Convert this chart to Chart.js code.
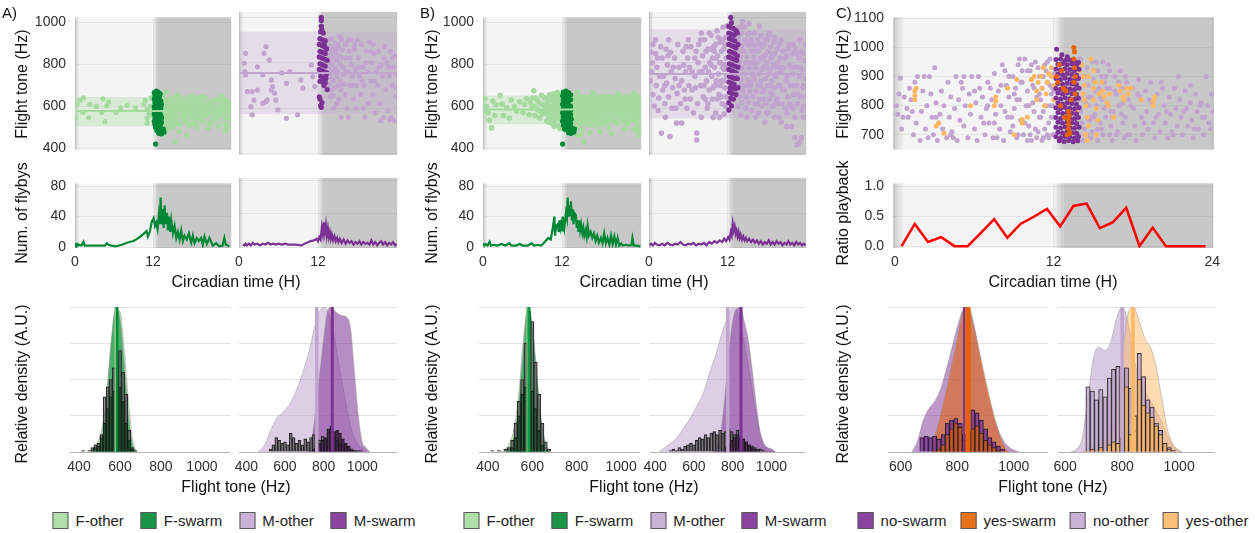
<!DOCTYPE html>
<html>
<head>
<meta charset="utf-8">
<title>Flight tone and flyby activity</title>
<script src="https://cdn.jsdelivr.net/npm/chart.js@4.4.1/dist/chart.umd.min.js"></script>
<style>
  body { margin: 0; width: 1255px; height: 533px; position: relative; overflow: hidden; background: #fff;
         font-family: "Liberation Sans", Arial, sans-serif; color: #111; }
  canvas { position: absolute; }
  .lab { position: absolute; white-space: nowrap; font-size: 16px; transform: translate(-50%, -50%); }
  .rot { transform: translate(-50%, -50%) rotate(-90deg); }
  .tag { position: absolute; font-size: 15px; top: 4px; }
  .legend { position: absolute; top: 512px; display: flex; gap: 17px; transform: translateX(-50%); font-size: 15px; color: #222; }
  .legend.narrow { gap: 14px; }
  .legend span { display: flex; align-items: center; gap: 7px; white-space: nowrap; }
  .legend i { display: inline-block; width: 16px; height: 17px; border: 1px solid #5a5a5a; box-sizing: border-box; }
</style>
</head>
<body>
<script>
// ---------- axes ----------
const hourTicks = [0, 12, 24];
const toneTicks = [400, 600, 800, 1000];
const toneTicksC = [700, 800, 900, 1000, 1100];
const flybyTicks = [0, 40, 80];
const ratioTicks = [0, 0.5, 1];
const densTicks = [0, 0.25, 0.5, 0.75, 1];
const hzTicks = [400, 600, 800, 1000];
const hzTicksC = [600, 800, 1000];

// light/dark phases (hours)
const lightsOff = 12, nightFrom = 12.75, dawnFade = 0.7;

// ---------- A: flight tone vs time, [hour, Hz] pairs ----------
const aFOther = [
  0.1,545, 0.3,610, 0.8,629, 1.2,571, 1.3,641, 2.1,546, 2.3,610, 3.3,600, 4.1,571, 4.3,636, 4.6,527, 4.9,603,
  5.2,622, 6.3,571, 7.0,593, 8.0,605, 9.3,593, 10.6,610, 10.8,629, 11.1,585, 11.1,542, 11.1,520, 11.4,563,
  11.6,600, 11.7,640, 11.8,560,
  13.5,590, 13.6,655, 13.6,545, 13.7,520, 13.8,625, 13.8,560, 13.9,600, 14.0,605, 14.0,668, 14.1,545, 14.2,630,
  14.3,580, 14.3,595, 14.4,515, 14.5,610, 14.6,560, 14.6,500, 14.7,530, 14.8,640, 14.9,590, 15.0,540, 15.0,610,
  15.1,505, 15.2,560, 15.3,620, 15.4,575, 15.5,530, 15.6,640, 15.6,520, 15.7,600, 15.8,555, 15.8,655, 15.9,585,
  16.0,640, 16.0,480, 16.1,515, 16.2,585, 16.3,610, 16.4,545, 16.5,620, 16.6,600, 16.7,570, 16.8,545, 16.9,600,
  17.0,530, 17.1,580, 17.2,640, 17.3,560, 17.4,620, 17.5,595, 17.6,510, 17.7,565, 17.8,625, 17.9,545, 18.0,600,
  18.0,650, 18.1,580, 18.2,545, 18.3,610, 18.4,520, 18.5,630, 18.6,560, 18.7,500, 18.8,640, 18.9,590, 19.0,565,
  19.1,545, 19.2,635, 19.3,615, 19.4,595, 19.5,575, 19.6,648, 19.7,530, 19.8,555, 19.9,600, 20.0,580, 20.1,640,
  20.3,560, 20.4,610, 20.5,495, 20.6,590, 20.8,520, 20.9,575, 21.0,620, 21.2,540, 21.3,570, 21.5,600, 21.7,630,
  21.8,545, 22.0,630, 22.0,505, 22.2,560, 22.3,585, 22.5,610, 22.5,650, 22.7,635, 22.8,560, 23.0,595, 23.1,483,
  23.2,545, 23.2,514, 23.3,625, 23.4,498, 23.5,570, 23.7,600, 23.8,540, 23.9,615,
  13.8,470, 14.1,492, 15.4,432, 17.2,461,
  14.2,560, 14.8,575, 15.3,545, 15.9,620, 16.6,560, 17.0,610, 17.6,590, 18.3,570, 18.8,610, 19.4,560, 20.2,600,
  20.9,610, 21.6,580, 22.4,600, 23.0,620, 23.6,590, 13.9,580
];
const aFSwarm = [
  12.2,665, 12.5,672, 12.8,668, 13.1,660, 12.3,650, 12.7,652, 13.0,645, 12.2,635, 12.6,638, 12.9,630, 13.2,625,
  12.3,620, 12.7,615, 13.0,612, 12.2,600, 12.5,598, 12.9,596, 13.2,592, 12.3,585, 12.7,580, 13.1,578, 12.2,565,
  12.5,568, 12.9,562, 13.2,558, 12.3,548, 12.7,545, 13.0,542, 12.2,530, 12.6,532, 12.9,528, 13.3,525, 12.3,515,
  12.7,512, 13.1,510, 12.4,500, 12.8,498, 13.2,495, 12.6,485, 13.0,482, 13.4,480, 12.9,472, 13.3,470, 13.7,478,
  13.6,492, 12.4,421, 12.2,580, 13.3,610, 13.3,545
];
const aMOther = [
  0.8,797, 0.9,761, 1.0,841, 1.0,746, 1.3,673, 1.8,607, 2.0,673, 2.0,571, 2.3,636, 2.8,782, 2.8,680, 3.6,746,
  3.6,622, 3.8,841, 4.1,870, 4.1,629, 4.3,636, 4.6,812, 4.9,724, 4.9,680, 5.1,695, 5.4,666, 5.6,636, 5.9,593,
  6.5,755, 7.2,556, 7.2,709, 7.7,761, 8.9,571, 9.4,724, 9.7,688, 11.0,790, 11.2,739, 11.5,695,
  13.6,900, 13.8,870, 13.7,830, 13.9,800, 13.6,770, 13.8,740, 13.7,705, 14.0,680, 13.9,650, 14.1,905, 14.2,860,
  14.3,825, 14.1,790, 14.4,760, 14.2,725, 14.5,690, 14.3,655, 14.6,885, 14.7,845, 14.8,810, 14.6,775, 14.9,740,
  15.0,700, 14.8,620, 15.1,870, 15.2,830, 15.3,795, 15.0,760, 15.4,720, 15.5,680, 15.2,640, 15.6,900, 15.7,855,
  15.8,780, 15.9,745, 16.0,705, 16.1,660, 16.2,880, 16.3,820, 16.5,760, 16.4,600, 16.7,850, 16.8,700, 17.0,900,
  17.1,790, 17.2,740, 17.4,640, 17.5,860, 17.7,770, 17.9,700, 18.0,900, 18.1,820, 18.3,740, 18.5,660, 18.6,880,
  18.8,780, 19.0,700, 19.1,560, 19.3,850, 19.5,760, 19.6,620, 19.8,890, 20.0,720, 20.2,800, 20.3,660, 20.5,840,
  20.7,580, 20.9,760, 21.1,700, 21.2,850, 21.4,620, 21.6,790, 21.8,740, 22.0,560, 22.1,870, 22.3,680, 22.5,800,
  22.6,590, 22.8,740, 23.0,850, 23.1,560, 23.3,700, 23.5,780, 23.6,545, 23.7,830, 23.8,650, 23.9,750, 22.9,550,
  21.5,545, 16.6,560, 15.5,560, 17.8,600, 18.9,600, 14.4,600, 20.4,880, 16.6,899, 15.3,914, 14.9,880,
  14.0,840, 14.4,720, 14.8,860, 15.3,700, 15.7,820, 16.2,760, 16.9,820, 17.3,700, 17.6,880, 18.2,780, 18.7,720,
  19.3,800, 20.0,850, 20.6,720, 21.3,780, 22.0,820, 22.7,780, 23.3,820, 23.9,690
];
const aMSwarm = [
  12.5,998, 12.5,985, 12.5,960, 12.6,945, 12.4,935, 12.8,930, 12.3,905, 12.7,900, 13.1,895, 12.2,880, 12.6,875,
  12.9,880, 13.0,870, 13.3,860, 12.3,850, 12.7,845, 13.1,840, 12.2,825, 12.6,820, 13.0,815, 13.4,810, 12.3,795,
  12.7,790, 13.1,785, 12.2,770, 12.6,765, 13.0,760, 13.3,755, 12.4,740, 12.8,735, 13.2,730, 13.2,745, 12.3,718,
  12.7,715, 13.1,712, 12.9,700, 12.2,650, 12.3,640, 12.4,612, 12.5,604, 12.6,625, 13.4,682
];
const aFBand = [505, 645], aFMedian = 578;
const aMBand = [575, 935], aMMedian = 755;

// ---------- B ----------
const bFOther = [
  0.1,580, 0.3,637, 0.5,600, 0.8,571, 1.0,535, 1.3,498, 1.5,625, 1.8,557, 2.0,608, 2.6,652, 2.9,610, 3.1,557,
  3.6,593, 4.0,545, 4.3,630, 4.8,600, 5.1,578, 5.6,622, 6.1,571, 6.3,610, 6.6,637, 7.0,560, 7.4,593, 7.7,674,
  7.9,557, 8.1,590, 8.4,622, 8.6,545, 8.9,652, 9.0,610, 9.2,578,
  9.5,640, 9.6,600, 9.5,565, 9.8,620, 9.9,580, 10.0,545, 10.1,655, 10.2,600, 10.3,565, 10.4,630, 10.5,590,
  10.6,550, 10.7,660, 10.8,615, 10.9,575, 11.0,535, 11.0,640, 11.1,600, 11.2,560, 11.3,665, 11.4,625, 11.5,585,
  11.5,545, 11.6,650, 11.7,605, 11.8,570, 11.9,530, 11.9,640, 10.5,520, 11.3,510, 9.7,530, 10.8,505, 11.7,495,
  7.2,620, 7.5,640, 7.8,600, 8.2,630, 8.5,580, 8.8,610, 9.3,640, 9.4,600, 9.7,590, 9.9,630, 10.2,570, 10.5,640,
  10.7,590, 10.9,625, 11.2,650, 11.4,590, 11.6,560, 11.8,610, 11.9,590, 9.0,565, 10.1,525, 8.0,640,
  13.7,645, 13.8,612, 13.6,580, 13.9,548, 13.7,515, 14.1,630, 14.2,596, 14.0,565, 14.3,532, 14.2,500, 14.6,648,
  14.5,614, 14.7,582, 14.6,550, 14.8,518, 15.0,632, 15.1,600, 15.0,567, 15.2,535, 15.1,490, 15.5,645, 15.4,612,
  15.6,580, 15.5,548, 15.7,515, 15.9,630, 16.0,598, 16.1,565, 15.9,532, 16.3,646, 16.4,612, 16.3,580, 16.5,548,
  16.4,512, 16.8,630, 16.9,596, 16.8,563, 17.0,530, 17.2,648, 17.3,614, 17.2,582, 17.4,550, 17.3,505, 17.7,632,
  17.8,600, 17.6,567, 17.9,535, 18.1,645, 18.2,612, 18.1,580, 18.3,548, 18.2,515, 18.6,630, 18.7,598, 18.5,565,
  18.8,532, 19.0,648, 19.1,614, 19.0,582, 19.2,550, 19.1,500, 19.5,632, 19.6,600, 19.4,567, 19.7,535, 19.9,645,
  20.0,612, 20.1,580, 19.9,548, 20.3,630, 20.4,598, 20.5,565, 20.4,520, 20.8,645, 20.9,612, 20.7,580, 21.0,548,
  21.2,630, 21.3,598, 21.2,565, 21.4,530, 21.7,648, 21.8,614, 21.6,582, 21.9,550, 22.1,632, 22.2,600, 22.0,567,
  22.3,535, 22.6,645, 22.7,612, 22.5,580, 22.8,548, 23.0,630, 23.1,598, 23.0,565, 23.2,530, 23.5,645, 23.6,612,
  23.4,580, 23.7,548, 23.9,630, 23.8,598, 23.9,565,
  13.7,600, 14.0,630, 14.4,580, 14.9,610, 15.3,590, 15.8,560, 16.2,600, 16.6,620, 17.0,580, 17.5,600, 18.0,625,
  18.4,590, 18.9,605, 19.3,620, 19.8,590, 20.2,605, 20.6,625, 21.0,595, 21.5,610, 22.0,595, 22.4,620, 22.9,600,
  23.3,615, 23.8,620, 16.0,520, 18.0,520, 20.0,530, 22.0,520,
  13.9,475, 14.4,462, 15.3,430, 16.2,475, 17.8,480, 19.5,470, 21.5,495, 22.9,490, 23.6,505, 23.6,485, 23.6,465,
  14.9,470, 14.3,668, 16.7,665, 20.6,660, 23.0,662
];
const bFSwarm = [
  12.2,668, 12.6,672, 13.0,665, 13.3,655, 12.1,650, 12.5,648, 12.9,645, 13.3,632, 12.2,630, 12.6,628, 13.0,622,
  12.1,610, 12.5,608, 12.9,605, 13.3,600, 12.2,590, 12.6,588, 13.0,585, 12.1,570, 12.5,568, 12.9,565, 13.3,560,
  12.2,550, 12.6,548, 13.0,545, 12.1,530, 12.5,528, 12.9,525, 13.3,520, 12.2,510, 12.6,508, 13.0,505, 13.4,500,
  12.4,492, 12.8,490, 13.2,486, 13.6,484, 13.0,475, 13.4,472, 13.8,478, 13.9,492, 12.1,421, 13.3,580, 13.4,540,
  12.8,612, 12.7,655
];
const bMOther = [
  0.3,845, 0.5,800, 0.4,760, 0.2,720, 0.6,660, 0.8,610, 1.0,840, 1.2,780, 1.1,700, 1.5,645, 1.4,590, 1.9,491,
  1.8,870, 2.0,820, 2.2,740, 2.1,680, 2.4,620, 2.6,860, 2.8,790, 2.7,710, 3.0,650, 3.2,476, 3.3,845, 3.4,760,
  3.6,690, 3.5,600, 3.9,820, 4.0,730, 4.2,535, 4.3,665, 4.4,880, 4.6,780, 4.8,620, 5.0,535, 5.0,720, 5.2,850,
  5.4,680, 5.6,760, 5.8,600, 5.9,820, 6.1,700, 6.3,640, 6.4,870, 6.6,760, 6.8,580, 7.0,820, 7.1,690, 7.3,491,
  7.3,461, 7.4,620, 7.6,880, 7.7,760, 7.9,700, 8.0,560, 8.2,830, 8.3,650, 8.5,900, 8.6,780, 8.8,720, 8.9,600,
  9.0,860, 9.2,680, 9.3,800, 9.5,920, 9.6,740, 9.7,640, 9.9,870, 10.0,780, 10.1,700, 10.2,580, 10.4,940,
  10.5,830, 10.6,750, 10.7,660, 10.9,890, 11.0,800, 11.1,720, 11.2,620, 11.3,955, 11.4,860, 11.5,770, 11.6,690,
  11.7,910, 11.8,820, 11.9,740, 11.8,650, 9.8,560, 10.8,560, 11.5,575, 6.0,900, 3.0,900, 8.0,930, 7.2,850,
  5.5,640, 2.5,560, 1.0,900,
  0.6,880, 1.3,820, 1.6,740, 2.4,700, 2.9,830, 3.7,780, 4.1,600, 4.6,700, 5.3,790, 5.7,870, 6.2,780, 6.6,680,
  7.0,740, 7.5,800, 7.9,900, 8.1,760, 8.4,700, 8.7,850, 9.1,760, 9.4,860, 9.8,690, 10.2,880, 10.3,820, 10.6,910,
  10.9,700, 11.1,850, 11.3,780, 11.6,880, 11.9,960, 11.7,610, 10.4,640, 9.0,620,
  8.6,640, 9.2,930, 9.5,790, 10.0,850, 10.3,720, 10.8,800, 11.2,900, 11.4,720, 11.7,790, 11.0,650, 9.7,820,
  13.6,950, 13.7,900, 13.6,850, 13.8,800, 13.7,750, 13.9,700, 13.8,650, 13.6,610, 14.1,930, 14.2,875, 14.0,825,
  14.3,775, 14.1,725, 14.4,675, 14.2,625, 14.6,955, 14.7,900, 14.5,850, 14.8,800, 14.6,750, 14.9,700, 14.7,650,
  14.8,600, 15.1,925, 15.2,875, 15.0,825, 15.3,775, 15.1,725, 15.4,675, 15.2,625, 15.6,900, 15.7,850, 15.5,800,
  15.8,750, 15.6,700, 15.9,650, 15.7,590, 16.1,930, 16.2,875, 16.0,825, 16.3,775, 16.1,725, 16.4,675, 16.2,620,
  16.6,900, 16.7,850, 16.5,800, 16.8,750, 16.6,700, 16.9,640, 16.7,580, 17.1,920, 17.2,870, 17.0,820, 17.3,770,
  17.1,720, 17.4,670, 17.2,610, 17.6,880, 17.7,830, 17.5,780, 17.8,730, 17.6,680, 17.9,620, 18.1,900, 18.2,850,
  18.0,800, 18.3,750, 18.1,700, 18.4,640, 18.2,580, 18.6,870, 18.7,820, 18.5,770, 18.8,720, 18.6,670, 18.9,610,
  19.1,890, 19.2,840, 19.0,790, 19.3,740, 19.1,690, 19.4,630, 19.6,860, 19.7,800, 19.5,750, 19.8,700, 19.6,640,
  20.0,880, 20.1,820, 20.2,760, 20.0,700, 20.3,620, 20.5,850, 20.6,780, 20.7,680, 20.9,600, 21.0,830, 21.1,740,
  21.2,650, 21.4,880, 21.5,790, 21.6,700, 21.7,610, 21.9,840, 22.0,750, 22.1,660, 22.3,560, 22.4,860, 22.5,780,
  22.6,700, 22.7,620, 22.9,820, 23.0,740, 23.1,650, 23.3,850, 23.4,770, 23.5,690, 23.6,610, 23.8,810, 23.9,730,
  23.9,650, 22.3,470, 22.6,440, 23.0,450, 23.3,470, 20.2,540, 21.0,520, 19.2,560, 17.7,540, 16.3,560, 15.0,560,
  14.0,570, 21.8,520, 23.6,560, 14.3,980, 15.3,970, 16.9,960, 18.4,930,
  13.8,920, 13.9,775, 13.7,680, 14.2,960, 14.4,850, 14.6,700, 14.9,890, 15.0,650, 15.4,930, 15.5,710, 15.8,880,
  15.9,800, 16.0,740, 16.4,850, 16.5,620, 16.9,880, 17.0,700, 17.3,820, 17.5,640, 17.8,900, 17.9,780, 18.3,920,
  18.4,700, 18.8,840, 18.9,660, 19.2,910, 19.4,780, 19.7,620, 20.0,780, 20.2,900, 20.4,680, 20.8,820, 21.0,720,
  21.3,860, 21.5,620, 21.8,780, 22.0,880, 22.2,700, 22.6,840, 22.8,660, 23.0,900, 23.2,780, 23.5,840, 23.7,700,
  23.9,880, 21.1,580, 22.0,600, 23.4,590, 18.0,580, 19.9,560
];
const bMSwarm = [
  12.5,998, 12.6,975, 12.2,960, 12.5,955, 12.9,950, 13.3,940, 12.2,930, 12.6,925, 13.0,920, 12.3,905, 12.7,900,
  13.1,895, 12.2,880, 12.6,875, 13.0,870, 13.3,865, 12.3,850, 12.7,845, 13.1,840, 12.2,825, 12.6,820, 13.0,815,
  13.4,810, 12.3,795, 12.7,790, 13.1,785, 12.2,770, 12.6,765, 13.0,760, 13.3,755, 12.3,740, 12.7,735, 13.1,730,
  12.2,715, 12.6,710, 13.0,705, 12.4,690, 12.8,688, 13.2,685, 12.3,670, 12.7,665, 13.3,660, 12.5,645, 12.9,640,
  12.2,625, 12.6,610, 12.2,592, 13.5,930, 13.6,880, 13.5,830, 13.6,780, 13.5,730, 13.6,690
];
const bFBand = [515, 652], bFMedian = 585;
const bMBand = [556, 946], bMMedian = 750;

// ---------- C: playback experiment ----------
const cNoOther = [
  0.1,800, 0.2,770, 0.4,895, 0.5,720, 0.7,830, 0.9,790, 1.0,760, 1.2,820, 1.4,700, 1.5,880, 1.6,740, 1.7,900,
  1.9,680, 2.0,780, 2.1,850, 2.3,720, 2.4,800, 2.5,690, 2.7,840, 2.8,760, 2.9,700, 3.0,930, 3.1,810, 3.2,680,
  3.4,770, 3.5,850, 3.6,720, 3.7,800, 3.9,690, 4.0,880, 4.1,760, 4.2,830, 4.3,710, 4.5,790, 4.6,900, 4.7,680,
  4.8,820, 4.9,750, 5.1,860, 5.2,730, 5.3,800, 5.5,690, 5.6,840, 5.7,770, 5.8,900, 6.0,720, 6.1,810, 6.2,680,
  6.4,860, 6.5,760, 6.6,830, 6.8,700, 6.9,790, 7.0,880, 7.1,740, 7.3,820, 7.4,690, 7.5,910, 7.6,770, 7.8,850,
  7.9,720, 8.0,800, 8.1,940, 8.2,680, 8.4,870, 8.5,760, 8.6,830, 8.7,710, 8.9,900, 9.0,790, 9.1,860, 9.2,690,
  9.3,940, 9.4,820, 9.5,750, 9.6,880, 9.7,700, 9.8,960, 9.9,800, 10.0,850, 10.1,730, 10.2,920, 10.3,680,
  10.4,870, 10.5,780, 10.6,950, 10.7,830, 10.8,710, 10.9,900, 11.0,760, 11.1,860, 11.2,690, 11.3,940, 11.4,800,
  11.5,880, 11.6,740, 11.7,960, 11.8,840, 11.9,700, 12.0,910,
  10.0,920, 10.3,890, 10.5,860, 10.8,930, 11.0,820, 11.2,900, 11.5,950, 11.7,870, 11.9,800, 10.4,810, 10.9,760,
  11.3,720, 11.8,760, 10.2,700, 9.6,920, 9.0,840, 8.8,760, 11.1,680, 11.6,690, 12.0,850, 12.0,760, 9.3,700,
  10.7,690, 8.3,920, 7.2,860, 6.3,900, 5.0,880, 2.2,900, 1.1,860, 0.3,840, 3.3,740, 4.4,690, 7.7,690, 6.7,740,
  8.0,870, 8.3,780, 8.6,900, 8.9,730, 9.2,820, 9.5,880, 9.8,740, 10.1,800, 10.3,940, 10.6,720, 10.9,840,
  11.2,780, 11.4,920, 11.7,800, 11.9,860, 10.0,680, 11.5,700, 12.0,700, 9.4,960, 7.0,800, 7.5,740, 6.0,850,
  5.2,900, 4.2,700, 3.1,760, 2.6,900, 1.3,780, 0.6,760,
  13.6,940, 13.7,880, 13.8,820, 13.6,760, 13.9,700, 14.0,960, 14.1,900, 14.2,840, 14.0,780, 14.3,720, 14.2,680,
  14.5,930, 14.6,870, 14.4,810, 14.7,750, 14.5,700, 14.9,950, 15.0,890, 14.8,830, 15.1,770, 14.9,710, 15.3,920,
  15.4,860, 15.2,800, 15.5,740, 15.3,680, 15.7,950, 15.8,880, 15.6,820, 15.9,760, 15.7,700, 16.1,940, 16.2,860,
  16.0,800, 16.3,730, 16.4,680, 16.6,900, 16.7,840, 16.5,780, 16.8,710, 17.0,920, 17.1,860, 16.9,800, 17.2,740,
  17.3,690, 17.5,880, 17.6,820, 17.4,760, 17.7,700, 17.9,860, 18.0,790, 18.1,730, 18.2,680, 18.4,890, 18.5,830,
  18.6,760, 18.7,700, 18.9,850, 19.0,780, 19.1,720, 19.3,880, 19.4,810, 19.5,740, 19.6,690, 19.8,840, 19.9,770,
  20.0,710, 20.2,860, 20.3,800, 20.4,740, 20.6,690, 20.7,830, 20.8,770, 20.9,710, 21.1,860, 21.2,790, 21.3,730,
  21.5,820, 21.6,760, 21.7,700, 21.9,850, 22.0,790, 22.1,730, 22.3,810, 22.4,750, 22.5,690, 22.7,840, 22.8,780,
  22.9,720, 23.1,810, 23.2,760, 23.3,700, 23.5,900, 23.6,800, 23.7,740, 23.9,840, 24.0,780,
  13.8,900, 14.3,870, 14.6,800, 15.0,760, 15.5,830, 15.9,900, 16.3,780, 13.9,740, 14.8,690, 15.6,720, 16.2,700,
  14.1,820, 15.2,950, 16.6,850, 17.2,810,
  13.6,860, 13.7,800, 13.9,960, 14.1,740, 14.4,900, 14.6,830, 14.8,760, 15.1,850, 15.3,720, 15.6,900, 15.8,790,
  16.0,860, 16.2,920, 16.4,760, 16.7,700, 16.9,880, 17.1,770, 17.4,900, 17.6,700, 17.8,800, 18.3,840, 18.8,740,
  19.2,820, 19.7,760, 20.1,880, 20.5,780, 21.0,700, 21.4,900, 21.8,780, 22.3,870, 22.6,720, 23.0,800, 23.4,760,
  23.8,720
];
const cYesOther = [
  1.5,820, 1.5,835, 1.5,850, 1.6,860, 3.1,730, 3.3,740, 3.7,705, 5.7,800, 7.5,800, 7.6,815, 7.6,830, 8.5,860,
  9.2,890, 9.6,740, 9.6,752, 10.3,890, 10.7,820, 10.7,850, 10.8,880, 11.0,900, 11.1,860, 11.2,930, 11.4,840,
  11.5,880, 11.6,910, 11.8,930, 11.8,900, 12.0,870, 10.0,760, 9.0,700, 11.3,800, 10.5,900, 12.0,820,
  14.1,940, 14.2,900, 14.3,870, 14.2,840, 14.4,800, 14.5,760, 14.6,730, 14.4,700, 14.8,960, 15.0,920, 15.1,880,
  15.0,820, 15.2,790, 15.3,750, 15.4,840, 15.7,850, 15.8,830, 16.0,810, 16.1,800, 16.9,870, 17.0,850, 17.2,830,
  17.3,820, 17.5,860, 17.6,840, 19.5,800, 19.5,815, 19.6,830, 13.5,680, 14.5,680,
  14.3,820, 14.6,900, 15.0,860, 15.2,700, 15.6,880, 16.2,840, 16.5,760, 17.8,860, 18.6,820, 13.9,920, 13.7,780
];
const cNoSwarm = [
  12.15,958, 12.5,960, 12.85,955, 13.2,957, 13.55,952, 13.85,948, 12.3,942, 12.65,944, 13.0,940, 13.35,943, 13.7,938,
  12.15,926, 12.5,923, 12.85,927, 13.2,924, 13.55,921, 13.9,925, 12.3,909, 12.65,906, 13.0,910, 13.35,907, 13.7,905,
  12.15,893, 12.5,890, 12.85,894, 13.2,891, 13.55,889, 13.85,893, 12.3,876, 12.65,873, 13.0,877, 13.35,874, 13.7,872,
  12.15,859, 12.5,856, 12.85,860, 13.2,857, 13.55,855, 13.9,860, 12.3,843, 12.65,840, 13.0,844, 13.35,841, 13.7,839,
  12.15,826, 12.5,823, 12.85,827, 13.2,824, 13.55,822, 13.85,826, 12.3,809, 12.65,806, 13.0,810, 13.35,807, 13.7,805,
  12.15,793, 12.5,790, 12.85,794, 13.2,791, 13.55,789, 13.9,793, 12.3,776, 12.65,773, 13.0,777, 13.35,774, 13.7,772,
  12.15,759, 12.5,756, 12.85,760, 13.2,757, 13.55,755, 13.85,759, 12.3,743, 12.65,740, 13.0,744, 13.35,741, 13.7,739,
  12.15,726, 12.5,723, 12.85,727, 13.2,724, 13.55,722, 13.9,726, 12.3,709, 12.65,706, 13.0,710, 13.35,707, 13.7,705,
  12.15,693, 12.5,690, 12.85,694, 13.2,691, 13.55,689, 13.85,693, 12.4,679, 12.75,677, 13.1,680, 13.45,676, 13.8,679,
  12.2,994, 12.6,975, 13.0,968
];
const cYesSwarm = [
  13.1,720, 13.1,735, 13.1,750, 13.15,765, 13.1,780, 13.2,705, 12.2,900, 12.3,880, 12.6,920, 12.7,860, 13.5,1000,
  13.55,985, 13.5,960, 13.55,930, 13.6,900, 13.5,880, 12.9,850, 12.5,800, 13.3,820, 12.8,760, 12.4,940, 13.6,840,
  13.0,700
];

// ---------- flybys per time bin, [hour, count] ----------
const aFFlybys = [
  0,5, 0.2,1, 0.35,4, 0.5,2, 0.7,3, 1.0,2, 1.3,7, 1.5,2, 2.5,2, 3.5,2, 4.6,2, 4.9,5, 5.2,3, 5.6,2, 6.3,1, 7.2,3,
  8.1,6, 9.0,8, 9.8,12, 10.5,17, 11.0,21, 11.2,14, 11.5,20, 11.8,33, 12.1,38, 12.3,28, 12.5,32, 12.7,24, 12.9,42,
  13.05,30, 13.18,65, 13.33,30, 13.48,50, 13.64,25, 13.79,55, 13.94,30, 14.15,45, 14.3,22, 14.45,40, 14.66,20,
  14.81,35, 15.07,18, 15.32,28, 15.58,12, 15.83,20, 16.09,10, 16.34,22, 16.6,8, 16.85,15, 17.21,10, 17.52,18,
  17.88,6, 18.13,15, 18.39,5, 18.74,12, 19.05,8, 19.41,12, 19.66,3, 19.92,14, 20.28,4, 20.68,12, 21.2,2, 21.7,5,
  22.2,1, 22.7,2, 22.98,12, 23.2,3, 23.75,1
];
const aMFlybys = [
  0.6,3, 0.8,2, 1.0,4, 1.2,2, 1.5,4, 1.8,2, 2.1,5, 2.4,3, 2.8,4, 3.2,2, 3.6,4, 4.0,3, 4.4,5, 4.8,3, 5.2,4, 5.6,3,
  6.0,4, 6.5,3, 7.0,4, 7.5,3, 8.5,3, 9.5,2, 10.2,5, 10.8,7, 11.4,8, 11.8,10, 12.0,7, 12.2,12, 12.4,9, 12.6,24,
  12.75,16, 12.9,30, 13.05,18, 13.2,27, 13.35,14, 13.5,22, 13.65,12, 13.8,18, 13.95,10, 14.1,15, 14.3,8, 14.5,13,
  14.7,7, 14.9,11, 15.1,6, 15.3,10, 15.6,5, 15.9,9, 16.2,4, 16.5,8, 16.8,5, 17.1,7, 17.4,3, 17.7,6, 18.0,4,
  18.3,7, 18.6,3, 18.9,6, 19.2,4, 19.5,5, 19.8,3, 20.1,8, 20.4,3, 20.7,6, 21.0,2, 21.3,5, 21.6,7, 21.9,3, 22.2,6,
  22.5,2, 22.8,5, 23.1,3, 23.4,6, 23.7,2, 23.9,4
];
const bFFlybys = [
  0,5, 0.2,2, 0.4,4, 0.7,2, 1.0,7, 1.2,2, 1.6,3, 2.2,2, 2.8,4, 3.4,2, 4.0,5, 4.3,2, 5.0,2, 5.6,4, 6.0,2, 6.8,2,
  7.4,5, 7.7,2, 8.3,3, 8.8,2, 9.1,4, 9.5,8, 9.9,12, 10.3,10, 10.6,25, 10.84,40, 10.95,15, 11.1,28, 11.35,30,
  11.5,20, 11.6,35, 11.75,25, 11.85,30, 12.0,22, 12.1,40, 12.35,25, 12.6,45, 12.75,38, 12.86,65, 13.0,40, 13.1,55,
  13.25,42, 13.36,60, 13.5,35, 13.6,50, 13.75,30, 13.87,45, 14.1,42, 14.25,25, 14.37,35, 14.5,20, 14.6,35,
  14.75,22, 14.9,30, 15.1,18, 15.25,25, 15.4,15, 15.6,22, 15.75,14, 15.9,28, 16.1,15, 16.35,20, 16.6,12,
  16.85,18, 17.1,8, 17.35,15, 17.6,6, 17.9,12, 18.15,5, 18.4,18, 18.65,5, 18.9,12, 19.2,3, 19.45,15, 19.7,4,
  19.95,14, 20.2,3, 20.45,12, 20.7,2, 21.0,5, 21.2,2, 21.7,3, 22.2,2, 22.55,3, 22.7,12, 22.9,2, 23.4,2, 23.9,1
];
const bMFlybys = [
  0.1,2, 0.3,4, 0.6,2, 0.9,5, 1.2,3, 1.6,2, 2.0,4, 2.4,2, 2.8,5, 3.2,3, 3.6,2, 4.0,4, 4.4,3, 4.8,6, 5.2,3, 5.6,2,
  6.0,4, 6.4,3, 6.8,5, 7.2,2, 7.6,4, 8.0,3, 8.4,5, 8.8,2, 9.2,6, 9.6,4, 10.0,7, 10.4,5, 10.8,8, 11.2,6, 11.5,10,
  11.8,7, 12.1,12, 12.3,9, 12.5,18, 12.65,14, 12.8,28, 12.95,20, 13.1,25, 13.25,16, 13.4,20, 13.55,13, 13.7,18,
  13.85,11, 14.0,15, 14.2,9, 14.4,13, 14.6,8, 14.8,11, 15.0,7, 15.3,10, 15.6,6, 15.9,9, 16.2,5, 16.5,8, 16.8,4,
  17.1,7, 17.4,3, 17.7,6, 18.0,4, 18.3,8, 18.6,3, 18.9,6, 19.2,3, 19.5,7, 19.8,4, 20.1,6, 20.4,2, 20.7,5, 21.0,3,
  21.3,7, 21.6,3, 21.9,5, 22.2,2, 22.5,6, 22.8,3, 23.1,5, 23.4,2, 23.7,4, 23.95,2
];
const ratioHours = [0.5, 1.5, 2.5, 3.5, 4.5, 5.5, 6.5, 7.5, 8.5, 9.5, 10.5, 11.5, 12.5, 13.5, 14.5, 15.5, 16.5, 17.5, 18.5, 19.5, 20.5, 21.5, 22.5, 23.5];
const ratioPlayback = [0, 0.37, 0.07, 0.15, 0, 0, 0.22, 0.45, 0.14, 0.37, 0.49, 0.62, 0.33, 0.67, 0.71, 0.30, 0.40, 0.64, 0, 0.31, 0, 0, 0, 0];

// ---------- densities [Hz, relative density] and histograms [bin centre Hz, height] ----------
const aFOtherDens = [460,0, 480,0.05, 500,0.1, 520,0.22, 540,0.5, 560,0.8, 580,0.98, 600,0.97, 620,0.72, 640,0.38, 660,0.1, 680,0];
const aFSwarmDens = [480,0, 500,0.03, 520,0.16, 540,0.45, 560,0.8, 580,1.0, 600,0.92, 620,0.62, 640,0.27, 660,0.06, 680,0];
const aFOtherHist = [420,0.01, 450,0.01, 465,0.03, 480,0.05, 495,0.06, 510,0.12, 525,0.38, 540,0.45, 555,0.5, 570,0.58, 585,0.62, 600,0.7, 615,0.55, 630,0.4, 645,0.15, 660,0.03, 675,0.01];
const aFSwarmHist = [465,0.01, 480,0.03, 495,0.04, 510,0.1, 525,0.2, 540,0.3, 555,0.38, 570,0.42, 585,0.48, 600,0.45, 615,0.35, 630,0.2, 645,0.08, 660,0.02];
const aFLines = [578, 586];

const aMOtherDens = [460,0, 480,0.02, 500,0.06, 520,0.13, 540,0.19, 560,0.24, 580,0.26, 600,0.29, 620,0.32, 640,0.37, 660,0.43, 680,0.5, 700,0.58, 720,0.67, 740,0.78, 760,0.9, 780,0.97, 800,1.0, 820,0.97, 840,0.88, 860,0.76, 880,0.6, 900,0.45, 920,0.3, 940,0.18, 960,0.1, 980,0.05, 1000,0.03, 1020,0];
const aMSwarmDens = [720,0, 740,0.1, 760,0.3, 780,0.55, 800,0.78, 820,0.97, 840,1.0, 860,0.97, 880,0.95, 900,0.94, 920,0.93, 940,0.85, 960,0.55, 980,0.25, 1000,0.07, 1020,0.03, 1040,0];
const aMOtherHist = [525,0.02, 540,0.05, 555,0.1, 570,0.08, 585,0.06, 600,0.07, 615,0.05, 630,0.13, 645,0.1, 660,0.06, 675,0.08, 690,0.05, 705,0.09, 720,0.07, 735,0.1, 750,0.12, 765,0.1, 780,0.08, 795,0.11, 810,0.09, 825,0.14, 840,0.12, 855,0.1, 870,0.08, 885,0.06, 900,0.05, 915,0.04, 930,0.03, 945,0.02, 960,0.01, 975,0.01];
const aMSwarmHist = [750,0.02, 765,0.04, 780,0.06, 795,0.08, 810,0.1, 825,0.16, 840,0.18, 855,0.14, 870,0.15, 885,0.13, 900,0.09, 915,0.06, 930,0.04, 945,0.02, 960,0.01, 990,0.01];
const aMLines = [765, 845];

const bFOtherDens = [460,0, 480,0.02, 500,0.07, 520,0.18, 540,0.42, 560,0.78, 580,0.99, 600,0.85, 620,0.5, 640,0.22, 660,0.06, 680,0];
const bFSwarmDens = [480,0, 500,0.03, 520,0.12, 540,0.35, 560,0.72, 580,1.0, 600,0.88, 620,0.55, 640,0.22, 660,0.05, 680,0];
const bFOtherHist = [420,0.01, 450,0.01, 480,0.02, 495,0.03, 510,0.08, 525,0.2, 540,0.35, 555,0.5, 570,0.75, 585,0.97, 600,0.9, 615,0.62, 630,0.4, 645,0.2, 660,0.07, 675,0.02];
const bFSwarmHist = [510,0.03, 525,0.1, 540,0.25, 555,0.4, 570,0.45, 585,0.5, 600,0.42, 615,0.3, 630,0.15, 645,0.05];
const bFLines = [578, 585];

const bMOtherDens = [420,0, 440,0.02, 460,0.04, 480,0.06, 500,0.08, 520,0.11, 540,0.15, 560,0.19, 580,0.23, 600,0.28, 620,0.33, 640,0.38, 660,0.45, 680,0.54, 700,0.62, 720,0.7, 740,0.8, 760,0.88, 780,0.95, 800,1.0, 820,0.98, 840,0.88, 860,0.75, 880,0.6, 900,0.43, 920,0.27, 940,0.14, 960,0.06, 980,0.03, 1000,0.02, 1020,0];
const bMSwarmDens = [700,0, 720,0.04, 740,0.15, 760,0.38, 780,0.68, 800,0.9, 820,0.99, 840,1.0, 860,0.9, 880,0.78, 900,0.58, 920,0.35, 940,0.15, 960,0.06, 980,0.03, 1000,0.02, 1020,0];
const bMOtherHist = [480,0.01, 495,0.02, 510,0.01, 525,0.03, 540,0.02, 555,0.04, 570,0.05, 585,0.06, 600,0.05, 615,0.08, 630,0.1, 645,0.09, 660,0.12, 675,0.1, 690,0.13, 705,0.14, 720,0.12, 735,0.15, 750,0.13, 765,0.14, 780,0.16, 795,0.14, 810,0.12, 825,0.15, 840,0.11, 855,0.09, 870,0.07, 885,0.05, 900,0.04, 915,0.03, 930,0.02, 945,0.02, 960,0.01];
const bMSwarmHist = [765,0.03, 780,0.06, 795,0.08, 810,0.1, 825,0.12, 840,0.11, 855,0.09, 870,0.07, 885,0.05, 900,0.03, 915,0.02, 930,0.01];
const bMLines = [775, 843];

const cNoSwarmDens = [640,0, 660,0.08, 680,0.22, 700,0.3, 720,0.35, 740,0.43, 760,0.56, 780,0.71, 800,0.86, 820,0.98, 840,1.0, 860,0.87, 880,0.66, 900,0.47, 920,0.31, 940,0.18, 960,0.09, 980,0.04, 1000,0.015, 1020,0];
const cYesSwarmDens = [710,0, 720,0.1, 740,0.25, 760,0.42, 780,0.6, 800,0.78, 820,0.97, 835,1.0, 860,0.85, 880,0.68, 900,0.5, 920,0.33, 940,0.18, 960,0.07, 980,0];
const cNoSwarmHist = [675,0.1, 690,0.11, 705,0.1, 720,0.11, 735,0.09, 750,0.12, 765,0.2, 780,0.22, 795,0.23, 810,0.2, 825,0.12, 840,0.13, 855,0.29, 870,0.27, 885,0.22, 900,0.16, 915,0.1, 930,0.07, 945,0.04, 960,0.02];
const cYesSwarmHist = [735,0.02, 750,0.05, 765,0.12, 780,0.16, 795,0.2, 810,0.17, 825,0.08, 840,0.1, 855,0.16, 870,0.18, 885,0.13, 900,0.08, 915,0.05, 930,0.03, 945,0.01];
const cSwarmLines = [824, 838];

const cNoOtherDens = [620,0, 640,0.02, 660,0.1, 680,0.38, 700,0.66, 720,0.72, 740,0.7, 760,0.76, 780,0.92, 800,1.0, 820,0.9, 840,0.66, 860,0.5, 880,0.42, 900,0.35, 920,0.28, 940,0.2, 960,0.11, 980,0.04, 1000,0.01, 1010,0];
const cYesOtherDens = [660,0, 680,0.02, 700,0.04, 720,0.06, 740,0.08, 760,0.14, 780,0.3, 800,0.65, 820,0.95, 840,1.0, 860,0.9, 880,0.78, 900,0.72, 920,0.58, 940,0.36, 960,0.15, 980,0.05, 1000,0.01, 1010,0];
const cNoOtherHist = [680,0.45, 695,0.42, 710,0.36, 725,0.43, 740,0.38, 755,0.51, 770,0.57, 785,0.59, 800,0.1, 815,0.58, 830,0.44, 845,0.15, 860,0.68, 875,0.52, 890,0.36, 905,0.31, 920,0.2, 935,0.15, 950,0.06, 965,0.03, 980,0.01];
const cYesOtherHist = [695,0.02, 725,0.03, 755,0.05, 770,0.07, 785,0.06, 800,0.05, 815,0.45, 830,0.12, 845,0.25, 860,0.5, 875,0.32, 890,0.27, 905,0.24, 920,0.18, 935,0.12, 950,0.06, 965,0.02];
const cOtherLines = [800, 838];

// ---------- legends ----------
const legendAB = [['F-other', '#b0dfab'], ['F-swarm', '#1a9447'], ['M-other', '#c9b0d5'], ['M-swarm', '#8a43a0']];
const legendC = [['no-swarm', '#8a43a0'], ['yes-swarm', '#e8721a'], ['no-other', '#c9b0d5'], ['yes-other', '#fdc07a']];

// ---------- styling ----------
const ink = '#2e2e2e';
const gridLine = 'rgba(0,0,0,0.055)';
const dayGrey = '#f4f4f4', nightGrey = '#c8c8c8', edgeGrey = '#cbcbcb';
const col = {
  Fother: '#a6dba0', Fswarm: '#008837', Mother: '#c2a5cf', Mswarm: '#7b3294',
  yesSwarm: '#e66101', yesOther: '#fdb863'
};

const pairs = flat => {
  const out = [];
  for (let i = 0; i < flat.length; i += 2) out.push({x: flat[i], y: flat[i + 1]});
  return out;
};

// grey day / night background behind the time panels
const shadePlugin = {
  id: 'shade',
  beforeDraw(chart) {
    const {ctx, chartArea: a} = chart;
    const x = chart.scales.x;
    const px = h => x.getPixelForValue(h);
    ctx.save();
    ctx.fillStyle = dayGrey;
    ctx.fillRect(a.left, a.top, a.width, a.height);
    let g = ctx.createLinearGradient(a.left, 0, px(dawnFade), 0);
    g.addColorStop(0, edgeGrey);
    g.addColorStop(1, dayGrey);
    ctx.fillStyle = g;
    ctx.fillRect(a.left, a.top, px(dawnFade) - a.left, a.height);
    g = ctx.createLinearGradient(px(lightsOff), 0, px(nightFrom), 0);
    g.addColorStop(0, dayGrey);
    g.addColorStop(1, nightGrey);
    ctx.fillStyle = g;
    ctx.fillRect(px(lightsOff), a.top, px(nightFrom) - px(lightsOff), a.height);
    ctx.fillStyle = nightGrey;
    ctx.fillRect(px(nightFrom), a.top, a.right - px(nightFrom), a.height);
    ctx.restore();
  }
};

function scale(min, max, ticks, o = {}) {
  return {
    type: 'linear', min, max, offset: false,
    afterBuildTicks: s => { s.ticks = ticks.map(value => ({value})); },
    grid: {display: o.grid !== false, color: o.gridColor || gridLine, drawTicks: false, lineWidth: 1},
    border: {display: false},
    ticks: {display: !!o.show, padding: o.pad === undefined ? 9 : o.pad, color: ink, font: {size: 14},
            callback: o.fmt || (v => v)}
  };
}

// box = plot area on the page; ml / mb = room kept for y / x tick labels
function panel(box, xScale, yScale, layers, shaded) {
  const pad = 12;
  const cv = document.createElement('canvas');
  const w = box.w + box.ml + 2 * pad, h = box.h + box.mb + 2 * pad;
  cv.width = w; cv.height = h;
  cv.style.left = (box.l - box.ml - pad) + 'px';
  cv.style.top = (box.t - pad) + 'px';
  cv.style.width = w + 'px';
  cv.style.height = h + 'px';
  document.body.appendChild(cv);
  // first layer in the list is painted first
  layers.forEach((d, i) => { d.order = layers.length - i; });
  xScale.afterFit = s => { s.height = box.mb; };
  yScale.afterFit = s => { s.width = box.ml; };
  return new Chart(cv, {
    type: 'scatter',
    data: {datasets: layers},
    options: {
      responsive: false, animation: false, devicePixelRatio: 1, events: [],
      layout: {padding: pad},
      plugins: {legend: {display: false}, tooltip: {enabled: false}, shade: shaded ? {} : false},
      scales: {x: xScale, y: yScale}
    },
    plugins: [shadePlugin]
  });
}

const dots = (data, color, r = 2.6) => ({type: 'scatter', data: pairs(data), backgroundColor: color, borderWidth: 0,
                                         pointRadius: r, pointHoverRadius: r});
const hline = (y, color) => ({type: 'line', data: [{x: 0, y}, {x: 24, y}], borderColor: color, borderWidth: 2, pointRadius: 0});
const band = (lohi, color) => [
  {type: 'line', data: [{x: 0, y: lohi[0]}, {x: 24, y: lohi[0]}], borderColor: 'transparent', pointRadius: 0, fill: false},
  {type: 'line', data: [{x: 0, y: lohi[1]}, {x: 24, y: lohi[1]}], borderColor: 'transparent', pointRadius: 0, fill: '-1', backgroundColor: color}
];
const trace = (data, color) => ({type: 'line', data: pairs(data), borderColor: color, borderWidth: 2.2, pointRadius: 0, tension: 0});
const dens = (data, fill) => ({type: 'line', data: pairs(data), fill: 'origin', backgroundColor: fill,
                               borderColor: 'rgba(150,150,150,0.6)', borderWidth: 0.8, pointRadius: 0,
                               cubicInterpolationMode: 'monotone'});
const hist = (data, fill) => ({type: 'bar', data: pairs(data), backgroundColor: fill, borderColor: '#1e1e1e',
                               borderWidth: 0.8, barPercentage: 1, categoryPercentage: 1, grouped: false});
const vline = (x, color, w) => ({type: 'line', data: [{x, y: 0}, {x, y: 1}], borderColor: color, borderWidth: w, pointRadius: 0});

const densGrid = c => (c.tick && c.tick.value === 0 ? '#b5b5b5' : '#e2e2e2');
const hideLast = v => (v === 24 ? '' : v);

// ---------- row 1: flight tone over the day ----------
const toneY = (show) => scale(395, 1022, toneTicks, {show});
panel({l: 75, t: 12, w: 156, h: 143, ml: 45, mb: 0}, scale(0, 24, hourTicks), toneY(true),
  [...band(aFBand, 'rgba(166,219,160,0.35)'), dots(aFOther, col.Fother), dots(aFSwarm, col.Fswarm), hline(aFMedian, col.Fother)], true);
panel({l: 239, t: 12, w: 158, h: 143, ml: 0, mb: 0}, scale(0, 24, hourTicks), toneY(false),
  [...band(aMBand, 'rgba(194,165,207,0.3)'), dots(aMOther, col.Mother), dots(aMSwarm, col.Mswarm), hline(aMMedian, col.Mother)], true);
panel({l: 483, t: 12, w: 158, h: 143, ml: 45, mb: 0}, scale(0, 24, hourTicks), toneY(true),
  [...band(bFBand, 'rgba(166,219,160,0.35)'), dots(bFOther, col.Fother, 2.8), dots(bFSwarm, col.Fswarm), hline(bFMedian, col.Fother)], true);
panel({l: 649, t: 12, w: 157, h: 143, ml: 0, mb: 0}, scale(0, 24, hourTicks), toneY(false),
  [...band(bMBand, 'rgba(194,165,207,0.3)'), dots(bMOther, col.Mother, 2.8), dots(bMSwarm, col.Mswarm), hline(bMMedian, col.Mother)], true);
panel({l: 893, t: 12, w: 321, h: 143, ml: 45, mb: 0}, scale(-0.15, 24.08, hourTicks), scale(649, 1103, toneTicksC, {show: true}),
  [dots(cNoOther, col.Mother, 2.5), dots(cYesOther, col.yesOther, 2.5), dots(cNoSwarm, col.Mswarm, 2.5), dots(cYesSwarm, col.yesSwarm, 2.5)], true);

// ---------- row 2: activity ----------
const hourX = (fmt) => scale(0, 24, hourTicks, {show: true, pad: 6, fmt});
const flybyY = (show) => scale(-1.2, 83.6, flybyTicks, {show});
panel({l: 75, t: 178, w: 156, h: 70, ml: 45, mb: 24}, hourX(hideLast), flybyY(true), [trace(aFFlybys, col.Fswarm)], true);
panel({l: 239, t: 178, w: 158, h: 70, ml: 0, mb: 24}, hourX(hideLast), flybyY(false), [trace(aMFlybys, col.Mswarm)], true);
panel({l: 483, t: 178, w: 158, h: 70, ml: 45, mb: 24}, hourX(hideLast), flybyY(true), [trace(bFFlybys, col.Fswarm)], true);
panel({l: 649, t: 178, w: 157, h: 70, ml: 0, mb: 24}, hourX(hideLast), flybyY(false), [trace(bMFlybys, col.Mswarm)], true);
panel({l: 893, t: 178, w: 321, h: 70, ml: 45, mb: 24}, scale(-0.15, 24.08, hourTicks, {show: true, pad: 6}),
  scale(-0.031, 1.046, ratioTicks, {show: true, fmt: v => v.toFixed(1)}),
  [{type: 'line', data: ratioHours.map((x, i) => ({x, y: ratioPlayback[i]})), borderColor: '#ff0000', borderWidth: 2.5, pointRadius: 0, tension: 0}], true);

// ---------- row 3: flight tone distributions ----------
const hzX = (min, max, ticks) => scale(min, max, ticks, {show: true, pad: 7, grid: false});
const densY = () => scale(0, 1, densTicks, {gridColor: densGrid});
const box3 = (l, w) => ({l, t: 307, w, h: 145, ml: 0, mb: 24});
panel(box3(70, 160), hzX(356, 1137, hzTicks), densY(), [
  dens(aFOtherDens, 'rgba(166,219,160,0.75)'), dens(aFSwarmDens, 'rgba(0,136,55,0.6)'),
  hist(aFOtherHist, 'rgba(110,110,110,0.55)'), hist(aFSwarmHist, 'rgba(10,70,30,0.55)'),
  vline(aFLines[0], '#8fcf89', 2), vline(aFLines[1], col.Fswarm, 2.5)]);
panel(box3(239, 158), hzX(362, 1180, hzTicks), densY(), [
  dens(aMOtherDens, 'rgba(194,165,207,0.55)'), dens(aMSwarmDens, 'rgba(123,50,148,0.55)'),
  hist(aMOtherHist, 'rgba(110,110,110,0.55)'), hist(aMSwarmHist, 'rgba(70,20,80,0.55)'),
  vline(aMLines[0], col.Mother, 3.5), vline(aMLines[1], col.Mswarm, 3)]);
panel(box3(479, 161), hzX(360, 1085, hzTicks), densY(), [
  dens(bFOtherDens, 'rgba(166,219,160,0.75)'), dens(bFSwarmDens, 'rgba(0,136,55,0.6)'),
  hist(bFOtherHist, 'rgba(110,110,110,0.6)'), hist(bFSwarmHist, 'rgba(10,70,30,0.55)'),
  vline(bFLines[0], '#8fcf89', 2), vline(bFLines[1], '#0f9a45', 3)]);
panel(box3(648, 157), hzX(374, 1173, hzTicks), densY(), [
  dens(bMOtherDens, 'rgba(194,165,207,0.55)'), dens(bMSwarmDens, 'rgba(123,50,148,0.55)'),
  hist(bMOtherHist, 'rgba(110,110,110,0.55)'), hist(bMSwarmHist, 'rgba(70,20,80,0.55)'),
  vline(bMLines[0], col.Mother, 3.5), vline(bMLines[1], col.Mswarm, 3)]);
panel(box3(888, 160), hzX(555, 1121, hzTicksC), densY(), [
  dens(cNoSwarmDens, 'rgba(123,50,148,0.5)'), dens(cYesSwarmDens, 'rgba(230,97,1,0.55)'),
  hist(cNoSwarmHist, 'rgba(123,50,148,0.75)'), hist(cYesSwarmHist, 'rgba(230,97,1,0.6)'),
  vline(cSwarmLines[0], col.Mswarm, 2), vline(cSwarmLines[1], col.yesSwarm, 5)]);
panel(box3(1058, 157), hzX(575, 1126, hzTicksC), densY(), [
  dens(cNoOtherDens, 'rgba(194,165,207,0.6)'), dens(cYesOtherDens, 'rgba(253,184,99,0.5)'),
  hist(cNoOtherHist, 'rgba(194,165,207,0.75)'), hist(cYesOtherHist, 'rgba(253,184,99,0.75)'),
  vline(cOtherLines[0], col.Mother, 3.5), vline(cOtherLines[1], col.yesOther, 3.5)]);

// ---------- text ----------
function label(text, x, y, cls) {
  const d = document.createElement('div');
  d.className = cls;
  d.textContent = text;
  d.style.left = x + 'px';
  d.style.top = y + 'px';
  document.body.appendChild(d);
}
[[22, 'Num. of flybys'], [432, 'Num. of flybys'], [843, 'Ratio playback']].forEach(([x, t]) => {
  label('Flight tone (Hz)', x, 84, 'lab rot');
  label(t, x, 213, 'lab rot');
  label('Relative density (A.U.)', x, 384, 'lab rot');
});
[236, 644, 1053].forEach(x => {
  label('Circadian time (H)', x, 282, 'lab');
  label('Flight tone (Hz)', x, 487, 'lab');
});
label('A)', 2, 4, 'tag');
label('B)', 420, 4, 'tag');
label('C)', 836, 4, 'tag');

function legend(cx, items, extra) {
  const row = document.createElement('div');
  row.className = 'legend' + (extra ? ' ' + extra : '');
  row.style.left = cx + 'px';
  items.forEach(([name, fill]) => {
    const s = document.createElement('span');
    const key = document.createElement('i');
    key.style.background = fill;
    s.appendChild(key);
    s.appendChild(document.createTextNode(name));
    row.appendChild(s);
  });
  document.body.appendChild(row);
}
legend(234, legendAB);
legend(645, legendAB);
legend(1053, legendC, 'narrow');
</script>
</body>
</html>
